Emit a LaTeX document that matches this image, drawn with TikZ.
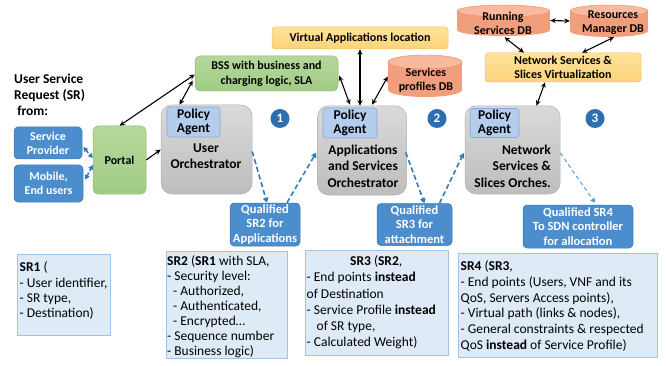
\documentclass[tikz,border=0pt]{standalone}
\usepackage{fontspec}
\setmainfont{Carlito}
\usetikzlibrary{arrows.meta,calc}
\definecolor{bluefill}{HTML}{4C8DCD}
\definecolor{blueline}{HTML}{3F78B0}
\definecolor{greenA}{HTML}{B5D89C}
\definecolor{greenB}{HTML}{A2CB86}
\definecolor{greenline}{HTML}{8DB873}
\definecolor{yelA}{HTML}{FFE29A}
\definecolor{yelB}{HTML}{FCD37A}
\definecolor{yelline}{HTML}{F2C266}
\definecolor{greyA}{HTML}{DADADA}
\definecolor{greyB}{HTML}{BDBDBD}
\definecolor{greyline}{HTML}{B0B0B0}
\definecolor{pafill}{HTML}{B4CDEC}
\definecolor{paline}{HTML}{86A9D8}
\definecolor{cylA}{HTML}{F8B99E}
\definecolor{cylB}{HTML}{F09E7C}
\definecolor{cylline}{HTML}{E08A68}
\definecolor{srfill}{HTML}{DEEBF7}
\definecolor{srline}{HTML}{9DC3E6}
\definecolor{numblue}{HTML}{2E6FB0}
\definecolor{dashblue}{HTML}{2F7BC0}
\definecolor{dashlight}{HTML}{5A9BD5}
\begin{document}
\begin{tikzpicture}[x=1pt,y=-1pt,
  base/.style={font=\bfseries\fontsize{12}{14}\selectfont, align=center, inner sep=1pt},
  bluebox/.style={base, fill=bluefill, draw=blueline, text=white, rounded corners=4pt, line width=0.5pt},
  greenbox/.style={base, top color=greenA, bottom color=greenB, draw=greenline, rounded corners=5pt, line width=0.5pt},
  yellowbox/.style={base, top color=yelA, bottom color=yelB, draw=yelline, rounded corners=3pt, line width=0.5pt},
  orch/.style={top color=greyA, bottom color=greyB, draw=greyline, rounded corners=11pt, line width=0.5pt},
  pabox/.style={base, font=\bfseries\fontsize{13.5}{14.5}\selectfont, fill=pafill, draw=paline, rounded corners=3pt, line width=0.6pt},
  orchtext/.style={font=\bfseries\fontsize{13.5}{16.5}\selectfont, inner sep=0pt},
  qbox/.style={bluebox, font=\bfseries\fontsize{12.5}{14.5}\selectfont},
  srbox/.style={fill=srfill, draw=srline, line width=1pt, inner sep=0pt},
  srtext/.style={align=left, anchor=west, inner sep=0pt, font=\fontsize{13.5}{15}\selectfont},
  num/.style={circle, fill=numblue, text=white, font=\bfseries\fontsize{13}{13}\selectfont, minimum size=19pt, inner sep=0pt},
  cylbox/.style={minimum width=#1, inner sep=0pt},
  cyltext/.style={base},
  biarrow/.style={{Stealth[length=5.5pt,width=5pt]}-{Stealth[length=5.5pt,width=5pt]}, line width=1.1pt},
  onearrow/.style={-{Stealth[length=5.5pt,width=5pt]}, line width=1.1pt},
  dasharr/.style={-{Triangle[length=5pt,width=5.5pt]}, dash pattern=on 5pt off 3pt, line width=1.6pt, draw=dashblue},
  dashbi/.style={{Triangle[length=4.5pt,width=5pt]}-{Triangle[length=4.5pt,width=5pt]}, dash pattern=on 3.5pt off 2pt, line width=1.6pt, draw=dashblue},
  dashthin/.style={-{Triangle[length=4.5pt,width=5pt]}, dash pattern=on 4pt off 3pt, line width=1pt, draw=dashlight}
]
\useasboundingbox (0,0) rectangle (666,366);

% header text
\node[font=\bfseries\fontsize{13.5}{16}\selectfont, align=left, anchor=west, inner sep=0pt] (hdr) at (14,95)
  {User Service\\Request (SR)\\\ from:};

% left boxes
\node[bluebox, minimum width=68pt, minimum height=32pt] (sp) at (48,143) {Service\\Provider};
\node[bluebox, minimum width=69pt, minimum height=37pt] (mob) at (48.5,183.5) {Mobile,\\End users};
\node[greenbox, minimum width=53pt, minimum height=68pt] (portal) at (119.5,160) {Portal};

% orchestrators
\node[orch, minimum width=91pt, minimum height=89pt] (uo) at (206.5,149.5) {};
\node[pabox, minimum width=53pt, minimum height=30pt] (pa1) at (193.5,122) {Policy\\Agent};
\node[orchtext, align=center] (uot) at (206,156) {User\\Orchestrator};

\node[orch, minimum width=89pt, minimum height=89pt] (aso) at (362,150.5) {};
\node[pabox, minimum width=54pt, minimum height=30pt] (pa2) at (350,123) {Policy\\Agent};
\node[orchtext, align=center] (asot) at (363,166) {Applications\\and Services\\Orchestrator};

\node[orch, minimum width=95pt, minimum height=88pt] (nsso) at (512.5,150) {};
\node[pabox, minimum width=49pt, minimum height=29pt] (pa3) at (494.5,123) {Policy\\Agent};
\node[orchtext, align=right, anchor=east] (nssot) at (551,166) {Network\\Services \&\\Slices Orches.};

% numbers
\node[num] (c1) at (280,118.5) {1};
\node[num] (c2) at (437,118.5) {2};
\node[num] (c3) at (595,118.5) {3};

% top boxes
\node[greenbox, minimum width=143pt, minimum height=35pt, font=\bfseries\fontsize{12}{15}\selectfont] (bss) at (266.5,73.5) {BSS with business and\\charging logic, SLA};
\node[yellowbox, minimum width=176pt, minimum height=22pt] (val) at (360,38) {Virtual Applications location};
\node[yellowbox, minimum width=156pt, minimum height=29pt, font=\bfseries\fontsize{12}{14}\selectfont] (nssv) at (563,67.5) {Network Services \&\\Slices Virtualization};

% cylinders
% Services profiles DB: x 388-462, y 54-97
\fill[cylB] (388,62) rectangle (462,90);
\fill[cylB] (425,90) ellipse [x radius=37pt, y radius=7pt];
\fill[cylA] (425,62) ellipse [x radius=37pt, y radius=7pt];
\draw[cylline, line width=0.4pt] (425,62) ellipse [x radius=37pt, y radius=7pt];
\node[cylbox=74pt, minimum height=43pt] (spdb) at (425,75.5) {};
\node[cyltext] (spdbt) at (426,80) {Services\\profiles DB};

% Running Services DB: x 457-550, y 5-36
\fill[cylB] (457,11) rectangle (550,30);
\fill[cylB] (503.5,30) ellipse [x radius=46.5pt, y radius=6pt];
\fill[cylA] (503.5,11) ellipse [x radius=46.5pt, y radius=6pt];
\draw[cylline, line width=0.4pt] (503.5,11) ellipse [x radius=46.5pt, y radius=6pt];
\node[cylbox=93pt, minimum height=31pt] (rsdb) at (503.5,20.5) {};
\node[cyltext] (rsdbt) at (503,23) {Running\\Services DB};

% Resources Manager DB: x 570-648, y 5-37
\fill[cylB] (570,11) rectangle (648,31);
\fill[cylB] (609,31) ellipse [x radius=39pt, y radius=6pt];
\fill[cylA] (609,11) ellipse [x radius=39pt, y radius=6pt];
\draw[cylline, line width=0.4pt] (609,11) ellipse [x radius=39pt, y radius=6pt];
\node[cylbox=78pt, minimum height=32pt] (rmdb) at (609,21) {};
\node[cyltext] (rmdbt) at (613,23) {Resources\\Manager DB};

% qualified boxes
\node[qbox, minimum width=70pt, minimum height=43pt] (q2) at (265,224.5) {Qualified\\SR2 for\\Applications};
\node[qbox, minimum width=75pt, minimum height=42pt] (q3) at (414.5,224.5) {Qualified\\SR3 for\\attachment};
\node[qbox, minimum width=110pt, minimum height=43pt] (q4) at (578,226.5) {Qualified SR4\\To SDN controller\\for allocation};

% SR boxes
\node[srbox, minimum width=93pt, minimum height=81pt] (sr1) at (63.5,294.5) {};
\node[srtext] (sr1t) at ($(sr1.west)+(3,-4)$)
  {\textbf{SR1} (\\- User identifier,\\- SR type,\\- Destination)};
\node[srbox, minimum width=121pt, minimum height=107pt] (sr2) at (226.5,304.5) {};
\node[srtext] (sr2t) at ($(sr2.west)+(1.5,2.5)$)
  {\textbf{SR2} (\textbf{SR1} with SLA,\\- Security level:\\\hspace*{6pt}- Authorized,\\\hspace*{6pt}- Authenticated,\\\hspace*{6pt}- Encrypted\ldots\\- Sequence number\\- Business logic)};
\node[srbox, minimum width=143pt, minimum height=105pt] (sr3) at (376.5,302.5) {};
\node[srtext, font=\fontsize{13.5}{16.2}\selectfont] (sr3t) at ($(sr3.west)+(2,0)$)
  {\makebox[139pt]{\textbf{SR3} (\textbf{SR2},}\\- End points \textbf{instead}\\of Destination\\- Service Profile \textbf{instead}\\\hspace*{10pt}of SR type,\\- Calculated Weight)};
\node[srbox, minimum width=199pt, minimum height=104pt] (sr4) at (557.5,305) {};
\node[srtext, font=\fontsize{13.5}{15.8}\selectfont] (sr4t) at ($(sr4.west)+(3,1)$)
  {\textbf{SR4} (\textbf{SR3},\\- End points (Users, VNF and its\\QoS, Servers Access points),\\- Virtual path (links \& nodes),\\- General constraints \& respected\\QoS \textbf{instead} of Service Profile)};

% black connectors
\draw[biarrow] (portal.north) -- ($(bss.west)+(0,1)$);
\draw[biarrow] ($(bss.west)+(-2,7)$) -- ($(uo.north)+(-27,0)$);
\draw[onearrow] (portal.east) -- (uo.west);
\draw[biarrow] ($(bss.east)+(1,2)$) -- ($(aso.north)+(-12,-1)$);
\draw[biarrow] (val.south) -- (val.south |- aso.north);
\draw[biarrow] ($(spdb.west)+(0,1)$) -- ($(aso.north)+(10,-1)$);
\draw[biarrow] (rsdb.east) -- (rmdb.west);
\draw[biarrow] ($(rsdb.south)+(1,1)$) -- ($(nssv.north)+(-39,0)$);
\draw[biarrow] ($(rmdb.south)+(5,0)$) -- ($(nssv.north)+(19,0)$);
\draw[biarrow] ($(nssv.south)+(-18,0)$) -- ($(nsso.north)+(24,0)$);

% dashed connectors
\draw[dashbi] ($(sp.east)+(1,4)$) -- ($(portal.west)+(0,-2)$);
\draw[dashbi] ($(mob.east)+(2,-4)$) -- ($(portal.west)+(0,5)$);
\draw[dasharr] ($(uo.east)+(0,2)$) -- ($(q2.north)+(2,0)$);
\draw[dasharr] ($(q2.north)+(22,0)$) -- ($(aso.west)+(-1,2)$);
\draw[dasharr] ($(aso.east)+(-1,2)$) -- ($(q3.north)+(10,0)$);
\draw[dasharr] ($(q3.north)+(25,0)$) -- ($(nsso.west)+(-1,3)$);
\draw[dashthin] ($(nsso.east)+(0,3)$) -- ($(q4.north)+(17,-2)$);
\end{tikzpicture}
\end{document}
